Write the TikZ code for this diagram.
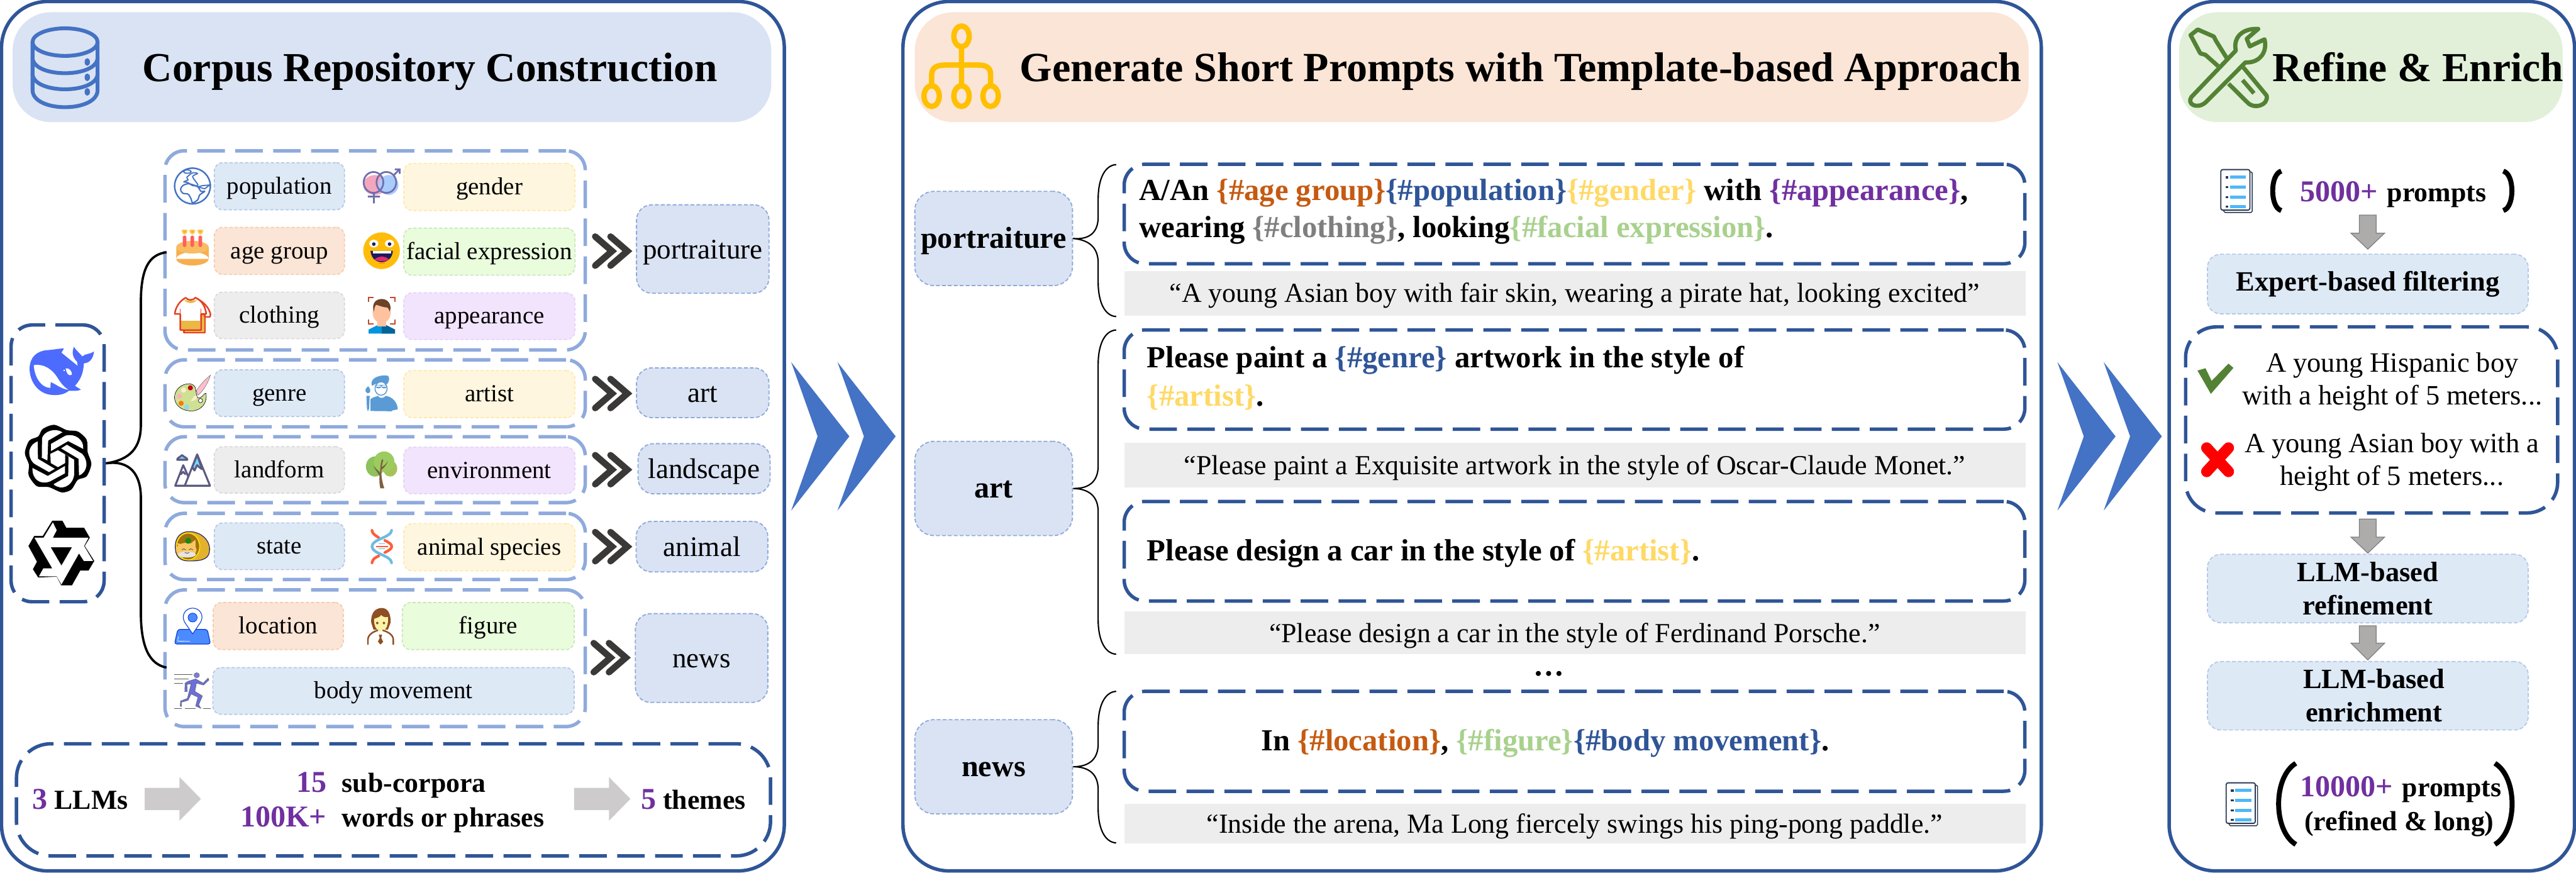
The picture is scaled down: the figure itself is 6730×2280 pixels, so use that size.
\documentclass[tikz,border=0pt]{standalone}
\usepackage{fontspec}
\setmainfont{Liberation Serif}
\definecolor{blueD}{HTML}{2F5597}
\definecolor{blueM}{HTML}{4472C4}
\definecolor{blueL}{HTML}{8FAADC}
\definecolor{bandB}{HTML}{DAE3F3}
\definecolor{bandO}{HTML}{FBE5D6}
\definecolor{bandG}{HTML}{E2F0D9}
\definecolor{purp}{HTML}{7030A0}
\definecolor{orgT}{HTML}{C55A11}
\definecolor{yelT}{HTML}{FFD966}
\definecolor{greT}{HTML}{A9D18E}
\definecolor{gryT}{HTML}{7F7F7F}
\definecolor{dkchev}{HTML}{3B3838}
\definecolor{arrA}{HTML}{CDCBCB}
\definecolor{arrB}{HTML}{AEABAB}
\definecolor{tagBf}{HTML}{DEE9F6}
\definecolor{tagBd}{HTML}{B4C7E7}
\definecolor{tagYf}{HTML}{FFF6DF}
\definecolor{tagYd}{HTML}{FFE9A8}
\definecolor{tagOd}{HTML}{F8CBAD}
\definecolor{tagGf}{HTML}{E9FCDC}
\definecolor{tagGd}{HTML}{CBE6B8}
\definecolor{tagKf}{HTML}{EDEDED}
\definecolor{tagKd}{HTML}{D9D9D9}
\definecolor{tagPf}{HTML}{F2E4FD}
\definecolor{tagPd}{HTML}{E6D2F8}
\definecolor{cOrg}{RGB}{255,192,0}
\definecolor{cTool}{RGB}{84,130,53}
\definecolor{cWhale}{RGB}{77,107,254}
\definecolor{cPink}{RGB}{244,166,189}
\definecolor{cSky}{RGB}{169,204,251}
\definecolor{cViol}{RGB}{111,111,175}
\definecolor{cCake}{RGB}{247,174,78}
\definecolor{cCakeT}{RGB}{249,188,98}
\definecolor{cCand}{RGB}{255,95,95}
\definecolor{cFlame}{RGB}{255,214,92}
\definecolor{cFace}{RGB}{255,188,10}
\definecolor{cNavy}{RGB}{27,27,94}
\definecolor{cTong}{RGB}{222,44,106}
\definecolor{cShirt}{RGB}{234,184,67}
\definecolor{cRed}{RGB}{228,64,31}
\definecolor{cBrack}{RGB}{193,73,42}
\definecolor{cBl}{RGB}{0,149,221}
\definecolor{cBlB}{RGB}{6,100,150}
\definecolor{cSkin}{RGB}{255,194,158}
\definecolor{cHair}{RGB}{107,66,38}
\definecolor{cPal}{RGB}{207,224,147}
\definecolor{cDa}{RGB}{196,0,18}
\definecolor{cDb}{RGB}{252,239,201}
\definecolor{cDc}{RGB}{251,176,187}
\definecolor{cDd}{RGB}{255,120,0}
\definecolor{cDe}{RGB}{140,217,247}
\definecolor{cBr}{RGB}{255,191,204}
\definecolor{cArt}{RGB}{91,155,213}
\definecolor{cMt}{RGB}{90,90,130}
\definecolor{cSnow}{RGB}{120,212,255}
\definecolor{cTa}{RGB}{167,193,91}
\definecolor{cTb}{RGB}{141,194,92}
\definecolor{cTc}{RGB}{156,203,95}
\definecolor{cTr}{RGB}{127,95,62}
\definecolor{cHood}{RGB}{226,178,46}
\definecolor{cBrn}{RGB}{160,112,15}
\definecolor{cYel}{RGB}{255,230,0}
\definecolor{cCat}{RGB}{248,198,100}
\definecolor{cGrn}{RGB}{17,140,17}
\definecolor{cDO}{RGB}{255,92,57}
\definecolor{cDB}{RGB}{110,187,224}
\definecolor{cPin}{RGB}{75,139,255}
\definecolor{cPinD}{RGB}{10,63,216}
\definecolor{cMan}{RGB}{143,78,35}
\definecolor{cManF}{RGB}{251,243,166}
\definecolor{cRunA}{RGB}{122,126,224}
\definecolor{cRunB}{RGB}{106,111,219}
\definecolor{cDocL}{HTML}{4FB8F5}
\definecolor{cDocD}{HTML}{2B3A55}
\newcommand\fsz[1]{\fontsize{\fpeval{#1*0.28453}}{\fpeval{#1*1.19*0.28453}}\selectfont}
\newcommand\bx[7]{\pgfmathsetmacro\bw{(#5-#3)*0.01}\pgfmathsetmacro\bh{(#6-#4)*0.01}\node[#2,minimum width=\bw cm,minimum height=\bh cm] (#1) at ({(#3+#5)/2},{(#4+#6)/2}) {#7};}
\newcommand\dchev[2]{\draw[dkchev,line width=.17cm,line cap=round,line join=miter] (#1,#2-38)--(#1+44,#2)--(#1,#2+38) (#1+40,#2-38)--(#1+84,#2)--(#1+40,#2+38);}
\newcommand\bigchev[1]{\fill[blueM] (#1,946)--(#1+152,1140)--(#1,1334)--(#1+69,1140)--cycle; \fill[blueM] (#1+121,946)--(#1+273,1140)--(#1+121,1334)--(#1+190,1140)--cycle;}
\newcommand\rarr[1]{\fill[arrA] (#1,2058)--(#1+91,2058)--(#1+91,2030)--(#1+147,2087)--(#1+91,2144)--(#1+91,2116)--(#1,2116)--cycle;}
\newcommand\darr[3]{\filldraw[fill=arrB,draw=gryT,line width=.02cm] (6164,#1)--(6208,#1)--(6208,#2)--(6230,#2)--(6186,#3)--(6142,#2)--(6164,#2)--cycle;}
\newcommand\docicon[2]{\begin{scope}[shift={(#1,#2)}]
\filldraw[fill=white,draw=cDocD,line width=.025cm,rounded corners=.03cm] (8,6) rectangle (82,112);
\filldraw[fill=white,draw=cDocD,line width=.03cm,rounded corners=.05cm] (0,0) rectangle (76,106);
\foreach \yy in {20,46,72,97}{\fill[cDocD] (12,\yy-3) rectangle (20,\yy+3);\fill[cDocL] (24,\yy-4) rectangle (66,\yy+4);}
\end{scope}}
\newcommand\brc[4]{\coordinate (#1t) at (2916,#2);\coordinate (#1b) at (2916,#3);
\draw[black,line width=.035cm] (#1t) .. controls (2885,#2+2) and (2869,#2+40) .. (2869,#2+90) -- (2869,#4-60) .. controls (2869,#4-22) and (2848,#4) .. (#1.east) .. controls (2848,#4) and (2869,#4+22) .. (2869,#4+60) -- (2869,#3-90) .. controls (2869,#3-40) and (2885,#3-2) .. (#1b);}
\tikzset{
 panel/.style={draw=blueD,line width=.09cm,rounded corners=1.2cm},
 bandbox/.style={rectangle,rounded corners=1cm,inner sep=0pt},
 dashD/.style={rectangle,draw=blueD,line width=.09cm,dash pattern=on .72cm off .27cm,rounded corners=.55cm,inner sep=0pt},
 dashL/.style={rectangle,draw=blueL,line width=.09cm,dash pattern=on .72cm off .27cm,rounded corners=.5cm,inner sep=0pt},
 tagbox/.style={rectangle,rounded corners=.22cm,line width=.028cm,dash pattern=on .085cm off .05cm,inner sep=0pt,text height=.5cm,text depth=.1cm,font=\fsz{64}},
 tagB/.style={tagbox,fill=tagBf,draw=tagBd},
 tagY/.style={tagbox,fill=tagYf,draw=tagYd},
 tagO/.style={tagbox,fill=bandO,draw=tagOd},
 tagG/.style={tagbox,fill=tagGf,draw=tagGd},
 tagK/.style={tagbox,fill=tagKf,draw=tagKd},
 tagP/.style={tagbox,fill=tagPf,draw=tagPd},
 theme/.style={rectangle,rounded corners=.4cm,fill=bandB,draw=blueL,line width=.03cm,dash pattern=on .1cm off .055cm,inner sep=0pt,text height=.55cm,text depth=.05cm,font=\fsz{74}},
 cat/.style={theme,rounded corners=.5cm,font=\fsz{79}\bfseries},
 stepbox/.style={rectangle,rounded corners=.35cm,fill=tagBf,draw=tagBd,line width=.028cm,dash pattern=on .1cm off .055cm,inner sep=0pt,align=center,font=\fsz{73}\bfseries},
 graybar/.style={rectangle,fill=tagKf,inner sep=0pt},
 pr/.style={font=\fsz{80}\bfseries},
 gr/.style={font=\fsz{72}},
 bd/.style={font=\fsz{72}\bfseries},
 nm/.style={font=\fsz{79}\bfseries,text=purp},
 pl/.style={font=\fsz{73}},
 zA/.style={shift={(440,420)},x=.00395cm,y=-.00333cm},
 zB/.style={shift={(440,950)},x=.00395cm,y=-.00351cm},
 zC/.style={shift={(440,1550)},x=.00395cm,y=-.00333cm},
 zD/.style={shift={(40,880)},x=.00333cm,y=-.004337cm},
 zW/.style={shift={(5000,0)},x=.01103cm,y=-.007334cm},
}
\begin{document}
\begin{tikzpicture}[x=.01cm,y=-.01cm]
\useasboundingbox (0,0) rectangle (6730,2280);
\fill[white] (0,0) rectangle (6730,2280);
% panels
\draw[panel] (4,4) rectangle (2049,2275);
\draw[panel] (2359,4) rectangle (5333,2275);
\draw[panel] (5667,4) rectangle (6726,2275);
% title bands
\bx{bandA}{bandbox,fill=bandB}{33}{32}{2015}{319}{}
\bx{bandC}{bandbox,fill=bandO}{2390}{32}{5300}{319}{}
\bx{bandE}{bandbox,fill=bandG}{5693}{32}{6695}{319}{}
\node[anchor=base west,inner sep=0pt,font=\fsz{107.6}\bfseries] (t1) at (372,213) {Corpus Repository Construction};
\node[anchor=base west,inner sep=0pt,font=\fsz{108.4}\bfseries] (t2) at (2664,213) {Generate Short Prompts with Template-based Approach};
\node[anchor=base west,inner sep=0pt,font=\fsz{107.6}\bfseries] (t3) at (5937,213) {Refine \& Enrich};
% database icon
\begin{scope}[blueM,line width=.1cm]
\draw (170,110) ellipse [x radius=85,y radius=36];
\draw (85,110)--(85,235) .. controls (85,295) and (255,295) .. (255,235)--(255,110);
\draw (85,150) .. controls (85,205) and (255,205) .. (255,150);
\draw (85,192) .. controls (85,247) and (255,247) .. (255,192);
\fill (228,162) ellipse [x radius=7,y radius=10] (228,202) ellipse [x radius=7,y radius=10] (228,240) ellipse [x radius=7,y radius=10];
\end{scope}
% org icon
\begin{scope}[draw=cOrg,line width=.14cm]
\draw (2512,95) ellipse [x radius=20,y radius=27];
\draw (2434,251) ellipse [x radius=20,y radius=27] (2512,251) ellipse [x radius=20,y radius=27] (2588,251) ellipse [x radius=20,y radius=27];
\draw (2512,122)--(2512,225) (2434,225)--(2434,195) .. controls (2434,175) and (2450,170) .. (2470,170)--(2555,170) .. controls (2575,170) and (2588,175) .. (2588,195)--(2588,225);
\end{scope}
% tools icon
\begin{scope}[zW,draw=cTool,line width=.11cm,line join=round]
\draw (657,345)--(762,180) .. controls (755,130) and (780,100) .. (815,103)--(788,138)--(795,165)--(830,140) .. controls (838,190) and (815,225) .. (785,222)--(690,365) .. controls (670,390) and (645,370) .. (657,345)--cycle;
\draw (742,210)--(715,145)--(710,130)--(672,105)--(655,125)--(678,190)--(690,195)--(720,235);
\draw (780,240)--(835,340) .. controls (840,375) and (805,390) .. (790,365)--(745,298);
\draw (778,285)--(805,332);
\end{scope}
% LLM box & icons
\bx{llm}{dashD}{29}{849}{272}{1572}{}
\begin{scope}[zD]
\fill[cWhale] (112,190) .. controls (115,120) and (170,85) .. (250,80) .. controls (300,78) and (340,70) .. (382,70)--(362,95) .. controls (400,120) and (450,150) .. (490,175)--(485,150) .. controls (445,120) and (445,90) .. (460,60) .. controls (480,85) and (510,100) .. (525,118) .. controls (550,100) and (590,105) .. (618,88) .. controls (610,130) and (590,155) .. (538,160) .. controls (535,220) and (510,260) .. (468,295)--(515,318) .. controls (490,328) and (450,325) .. (420,325) .. controls (380,350) and (330,352) .. (290,350) .. controls (180,345) and (112,270) .. (112,190)--cycle;
\fill[white] (145,170) .. controls (220,160) and (290,195) .. (330,245) .. controls (360,285) and (395,310) .. (418,318) .. controls (370,318) and (320,285) .. (278,272)--(275,308) .. controls (200,305) and (150,240) .. (145,170)--cycle;
\fill[white] (395,190) .. controls (420,185) and (445,205) .. (445,228) .. controls (420,238) and (405,225) .. (395,190)--cycle;
\fill[white] (378,198) rectangle (390,208);
% openai knot
\fill[black] plot[smooth cycle] coordinates {(75,700)(110,625)(180,600)(215,555)(305,530)(405,562)(490,570)(560,620)(568,695)(597,765)(560,840)(490,862)(440,920)(365,937)(262,905)(170,900)(105,835)(107,770)};
\fill[white] (175,630) .. controls (125,645) and (105,680) .. (110,705) .. controls (115,740) and (135,755) .. (150,765)--(265,815)--(310,795)--(178,735)--cycle;
\fill[white] (210,610) .. controls (225,570) and (310,545) .. (370,575)--(258,625)--(252,745)--(208,728)--cycle;
\fill[white] (280,645)--(395,595) .. controls (470,580) and (540,620) .. (533,675)--(415,628)--(280,688)--cycle;
\fill[white] (360,672)--(405,650)--(525,705) .. controls (575,745) and (570,815) .. (500,835)--(497,735)--cycle;
\fill[white] (395,710)--(462,740)--(462,830) .. controls (450,900) and (360,930) .. (300,888)--(415,838)--(418,722)--cycle;
\fill[white] (135,790)--(255,838)--(390,778)--(390,822)--(275,870) .. controls (200,895) and (130,860) .. (135,790)--cycle;
\fill[white] (275,705)--(335,683)--(392,708)--(392,760)--(335,785)--(278,760)--cycle;
% qwen star
\fill[black] (290,1108)--(370,1108)--(400,1150)--(540,1150)--(585,1210)--(545,1260)--(620,1350)--(575,1408)--(510,1408)--(445,1497)--(360,1497)--(325,1445)--(180,1450)--(138,1400)--(170,1355)--(103,1260)--(148,1200)--(215,1200)--cycle;
\fill[white,even odd rule] (295,1118)--(325,1165)--(295,1210)--(575,1210)--(540,1260)--(610,1350)--(538,1350)--(500,1305)--(362,1492)--(325,1443)--(185,1443)--(220,1395)--(290,1395)--(150,1210)--(222,1210)--cycle (278,1268)--(445,1268)--(362,1378)--cycle;
\end{scope}
% groups
\bx{gP}{dashL}{431}{394}{1529}{914}{}
\bx{gA}{dashL}{431}{940}{1529}{1115}{}
\bx{gL}{dashL}{431}{1141}{1529}{1313}{}
\bx{gN}{dashL}{431}{1341}{1529}{1514}{}
\bx{gW}{dashL}{431}{1541}{1529}{1898}{}
% tags
\bx{population}{tagB}{560}{425}{900}{548}{population}
\bx{gender}{tagY}{1055}{427}{1502}{550}{gender}
\bx{agegroup}{tagO}{560}{594}{900}{717}{age group}
\bx{facial}{tagG}{1055}{596}{1502}{719}{facial expression}
\bx{clothing}{tagK}{560}{763}{900}{885}{clothing}
\bx{appearance}{tagP}{1055}{765}{1502}{887}{appearance}
\bx{genre}{tagB}{560}{966}{900}{1088}{genre}
\bx{artist}{tagY}{1055}{968}{1502}{1091}{artist}
\bx{landform}{tagK}{560}{1167}{900}{1288}{landform}
\bx{environment}{tagP}{1055}{1168}{1502}{1290}{environment}
\bx{state}{tagB}{560}{1366}{900}{1488}{state}
\bx{species}{tagY}{1055}{1368}{1502}{1491}{animal species}
\bx{location}{tagO}{557}{1574}{897}{1697}{location}
\bx{figure}{tagG}{1051}{1574}{1500}{1697}{figure}
\bx{bodymove}{tagB}{556}{1744}{1500}{1866}{body movement}
% themes
\bx{thP}{theme}{1663}{535}{2009}{766}{portraiture}
\bx{thA}{theme}{1663}{961}{2009}{1091}{art}
\bx{thL}{theme}{1667}{1159}{2012}{1290}{landscape}
\bx{thN}{theme}{1662}{1362}{2006}{1494}{animal}
\bx{thW}{theme}{1660}{1603}{2006}{1835}{news}
\dchev{1555}{656}\dchev{1555}{1028}\dchev{1555}{1227}\dchev{1555}{1428}\dchev{1551}{1718}
% brace from llm
\coordinate (b1) at (435,659); \coordinate (b2) at (435,1744);
\draw[black,line width=.06cm] (b1) .. controls (390,665) and (368,700) .. (368,790) -- (368,1110) .. controls (368,1170) and (340,1201) .. (llm.east) .. controls (340,1201) and (368,1240) .. (368,1300) -- (368,1600) .. controls (368,1690) and (390,1735) .. (b2);
% icons column 1 (zoom A)
\begin{scope}[zA]
\draw[blueM,line width=.04cm,line join=round] (159,198) ellipse [x radius=118,y radius=140];
\draw[blueM,line width=.035cm,line join=round] plot[smooth cycle] coordinates {(80,225)(95,195)(130,180)(165,190)(195,205)(215,240)(240,240)(205,270)(195,305)(160,330)(150,300)(130,262)(95,255)};
\draw[blueM,line width=.03cm] plot[smooth cycle] coordinates {(103,165)(130,150)(122,130)(160,95)(192,100)(160,125)(195,190)(160,195)(130,172)};
\draw[blueM,line width=.03cm] (125,85) ellipse [x radius=25,y radius=13];
\draw[blueM,line width=.03cm] (195,205)--(225,195)--(272,190)--(240,220)--cycle;
\fill[cPink] (1365,190) ellipse [x radius=78,y radius=78];
\fill[cSky] (1455,190) ellipse [x radius=65,y radius=78];
\begin{scope}[draw=cViol,line width=.045cm]
\draw (1355,170) ellipse [x radius=65,y radius=82] (1440,170) ellipse [x radius=65,y radius=82];
\draw (1358,252)--(1358,335) (1318,281)--(1398,281) (1490,112)--(1528,65) (1495,67)--(1528,67)--(1528,102);
\end{scope}
\fill[cCake] (52,680) rectangle (266,770) (159,770) ellipse [x radius=107,y radius=52];
\fill[cCakeT] (159,678) ellipse [x radius=107,y radius=50];
\foreach \xx in {107,158,211}{\fill[cCand,rounded corners=.03cm] (\xx-12,588) rectangle (\xx+12,676);
 \fill[cFlame] (\xx,582) .. controls (\xx-30,560) and (\xx-25,530) .. (\xx,542) .. controls (\xx+25,530) and (\xx+30,560) .. (\xx,582)--cycle;
 \fill[cCake] (\xx,556) ellipse [x radius=11,y radius=12];}
\fill[cFace] (1408,706) ellipse [x radius=121,y radius=144];
\fill[white] (1357,650) ellipse [x radius=30,y radius=30] (1461,650) ellipse [x radius=30,y radius=30];
\fill[cNavy] (1357,654) ellipse [x radius=12,y radius=14] (1461,654) ellipse [x radius=12,y radius=14];
\fill[cNavy] (1335,707)--(1483,707) .. controls (1480,770) and (1440,796) .. (1410,796) .. controls (1375,796) and (1340,770) .. (1335,707)--cycle;
\fill[white] (1350,710) rectangle (1470,730);
\fill[cTong] (1362,775) .. controls (1385,745) and (1435,745) .. (1457,775) .. controls (1440,793) and (1380,793) .. (1362,775)--cycle;
\draw[orange,line width=.02cm] (1390,804)--(1430,804);
% shirt
\filldraw[fill=cShirt,draw=cRed,line width=.04cm,line join=round] (102,1325)--(102,1350)--(243,1350)--(243,1205)--(215,1205)--(215,1325)--cycle;
\filldraw[fill=white,draw=cRed,line width=.04cm,line join=round] (178,1075) .. controls (240,1110) and (270,1160) .. (278,1205)--(275,1225)--(240,1225)--(240,1150)--cycle;
\filldraw[fill=white,draw=cRed,line width=.04cm,line join=round] (115,1075) .. controls (125,1098) and (165,1098) .. (178,1075) .. controls (230,1100) and (245,1160) .. (250,1202)--(215,1202)--(215,1328)--(78,1328)--(78,1202)--(42,1202) .. controls (45,1160) and (70,1100) .. (115,1075)--cycle;
\fill[cShirt] (84,1255) rectangle (210,1322);
\fill[cShirt] (102,1092) .. controls (125,1125) and (170,1125) .. (190,1092) .. controls (170,1100) and (125,1100) .. (102,1092)--cycle;
\draw[cRed,line width=.03cm] (78,1160)--(78,1202) (215,1160)--(215,1202);
% face person
\draw[cBrack,line width=.035cm] (1323,1107)--(1323,1072)--(1356,1072) (1464,1072)--(1495,1072)--(1495,1107) (1323,1245)--(1323,1280)--(1356,1280) (1464,1280)--(1495,1280)--(1495,1245);
\fill[cBl] (1323,1356)--(1323,1325)--(1385,1288)--(1435,1288)--(1497,1325)--(1497,1356)--cycle;
\fill[cBlB] (1410,1290)--(1435,1288)--(1497,1325)--(1497,1356)--(1410,1356)--cycle;
\fill[cSkin] (1380,1240) rectangle (1438,1300);
\fill[cSkin] (1409,1190) ellipse [x radius=60,y radius=85];
\fill[cHair] (1358,1185) .. controls (1340,1120) and (1370,1085) .. (1410,1085) .. controls (1450,1085) and (1480,1130) .. (1462,1185) .. controls (1455,1160) and (1450,1145) .. (1430,1150) .. controls (1410,1145) and (1385,1135) .. (1372,1130) .. controls (1362,1145) and (1360,1165) .. (1358,1185)--cycle;
\end{scope}
% icons zoom B
\begin{scope}[zB]
\filldraw[fill=cPal,draw=black,line width=.01cm] (145,150) .. controls (85,145) and (40,195) .. (40,255) .. controls (45,320) and (100,355) .. (160,352) .. controls (220,345) and (260,290) .. (248,220) .. controls (235,215) and (225,260) .. (195,255) .. controls (170,220) and (200,165) .. (145,150)--cycle;
\fill[cDa] (145,180) ellipse [x radius=17,y radius=19];
\fill[cDb] (100,197) ellipse [x radius=17,y radius=19];
\fill[cDc] (73,242) ellipse [x radius=17,y radius=19];
\fill[cDd] (84,295) ellipse [x radius=17,y radius=19];
\fill[cDe] (120,323) ellipse [x radius=17,y radius=19];
\filldraw[fill=white,draw=black,line width=.01cm] (212,275) ellipse [x radius=14,y radius=16];
\filldraw[fill=cBr,draw=black!60,line width=.008cm] (278,85) .. controls (240,120) and (195,175) .. (185,205)--(195,235) .. controls (225,210) and (260,150) .. (278,85)--cycle;
\fill[cDb] (145,278) .. controls (165,265) and (160,240) .. (180,237)--(190,245) .. controls (190,265) and (170,280) .. (145,278)--cycle;
% artist
\fill[cArt] (1345,165) .. controls (1325,105) and (1400,80) .. (1450,90) .. controls (1470,115) and (1450,150) .. (1440,155)--(1370,150)--cycle;
\filldraw[fill=white,draw=cArt,line width=.025cm] (1405,185) ellipse [x radius=40,y radius=50];
\fill[cArt] (1370,158) rectangle (1442,172) (1388,172) ellipse [x radius=18,y radius=12] (1425,172) ellipse [x radius=18,y radius=12];
\fill[cArt] (1335,352)--(1335,265) .. controls (1345,250) and (1375,245) .. (1385,240) .. controls (1395,260) and (1420,260) .. (1435,240) .. controls (1480,245) and (1515,290) .. (1515,340)--(1480,348)--(1475,354)--cycle;
\fill[cArt] (1308,240)--(1330,240)--(1326,335)--(1318,354)--(1312,335)--cycle;
\fill[cArt] (1320,168) .. controls (1340,190) and (1335,215) .. (1325,218)--(1312,218) .. controls (1295,205) and (1300,185) .. (1320,168)--cycle;
% mountains
\begin{scope}[draw=cMt,line width=.05cm,line join=round]
\filldraw[fill=white] (45,908)--(98,755)--(135,850)--(110,908)--cycle;
\filldraw[fill=white] (108,908)--(190,675)--(275,908)--cycle;
\filldraw[fill=cSnow] (190,678)--(222,785)--(205,772)--(190,755)--(172,795)--(158,770)--cycle;
\filldraw[fill=cSnow] (58,715) .. controls (58,700) and (75,698) .. (90,680) .. controls (105,698) and (125,700) .. (125,715)--cycle;
\draw (80,825)--(98,805)--(115,825);
\end{scope}
% tree
\fill[cTa] (1465,780) ellipse [x radius=47,y radius=60];
\fill[cTb] (1365,765) ellipse [x radius=60,y radius=75];
\fill[cTc] (1425,730) ellipse [x radius=68,y radius=77];
\fill[cTr] (1400,927)--(1426,927) .. controls (1410,870) and (1405,830) .. (1408,790) .. controls (1430,770) and (1445,745) .. (1450,725) .. controls (1440,745) and (1425,760) .. (1408,770)--(1420,715)--(1410,712) .. controls (1400,750) and (1400,780) .. (1398,810) .. controls (1385,795) and (1370,780) .. (1355,760) .. controls (1365,790) and (1385,810) .. (1395,835) .. controls (1392,870) and (1395,900) .. (1400,927)--cycle;
% hood cat
\filldraw[fill=cHood,draw=cNavy,line width=.018cm] (130,1250) .. controls (210,1245) and (275,1310) .. (272,1385) .. controls (270,1445) and (240,1470) .. (130,1468) .. controls (70,1465) and (45,1430) .. (45,1360) .. controls (45,1295) and (80,1252) .. (130,1250)--cycle;
\filldraw[fill=cBrn,draw=cYel,line width=.025cm] (130,1360) ellipse [x radius=77,y radius=100];
\fill[cCat] (118,1385) ellipse [x radius=68,y radius=52];
\fill[cCat] (58,1335)--(90,1345)--(70,1375)--cycle (178,1310)--(180,1360)--(145,1340)--cycle;
\fill[black!10] (122,1420) ellipse [x radius=60,y radius=22];
\fill[cGrn] (130,1318) ellipse [x radius=20,y radius=22];
\draw[black!80,line width=.012cm] (88,1385) .. controls (95,1375) and (108,1375) .. (115,1385) (135,1385) .. controls (142,1375) and (155,1375) .. (162,1385) (108,1405) .. controls (115,1412) and (130,1412) .. (138,1405);
% dna
\draw[cDO,line width=.07cm,line cap=round] (1345,1240) .. controls (1350,1275) and (1375,1280) .. (1390,1295) (1430,1315) .. controls (1465,1335) and (1475,1345) .. (1475,1360) .. controls (1475,1375) and (1465,1385) .. (1430,1405) (1390,1430) .. controls (1365,1445) and (1350,1450) .. (1345,1482);
\draw[cDB,line width=.07cm,line cap=round] (1475,1240) .. controls (1470,1295) and (1345,1305) .. (1345,1360) .. controls (1345,1415) and (1470,1425) .. (1475,1482);
\draw[cDB,line width=.025cm] (1390,1340)--(1430,1340) (1390,1378)--(1430,1378);
\draw[cDO,line width=.025cm] (1370,1360)--(1450,1360);
\end{scope}
% icons zoom C
\begin{scope}[zC]
\filldraw[fill=cPin,draw=cPinD,line width=.02cm,rounded corners=.06cm] (40,398)--(62,283)--(257,283)--(278,398)--cycle;
\draw[white,line width=.012cm] (65,338)--(62,375)--(145,378);
\filldraw[fill=white,draw=cPinD,line width=.018cm] (160,318)--(108,228) .. controls (80,170) and (115,116) .. (160,116) .. controls (205,116) and (240,170) .. (212,228)--cycle;
\filldraw[fill=cPin,draw=cPinD,line width=.015cm] (160,190) ellipse [x radius=30,y radius=35];
% man
\fill[cMan] (1340,230) .. controls (1335,150) and (1370,115) .. (1410,115) .. controls (1450,115) and (1470,160) .. (1468,230)--(1450,285)--(1355,285)--cycle;
\fill[cManF] (1360,200) .. controls (1385,190) and (1400,185) .. (1405,170) .. controls (1420,190) and (1440,190) .. (1450,185) .. controls (1455,240) and (1440,298) .. (1405,298) .. controls (1375,298) and (1355,250) .. (1360,200)--cycle;
\fill[cMan] (1380,233) ellipse [x radius=8,y radius=10] (1424,233) ellipse [x radius=8,y radius=10];
\draw[cMan,line width=.04cm] (1318,402)--(1318,365) .. controls (1318,320) and (1360,298) .. (1385,290) (1486,402)--(1486,365) .. controls (1486,320) and (1440,298) .. (1415,290);
\fill[cMan] (1390,325)--(1412,325)--(1406,350)--(1419,380)--(1402,402)--(1384,380)--(1396,350)--cycle;
% runner
\draw[black!65,line width=.016cm] (40,637)--(158,637) (40,672)--(133,672) (40,705)--(98,705) (40,905)--(90,905) (110,905)--(180,905) (230,905)--(278,905);
\filldraw[fill=cRunA,draw=black!60,line width=.01cm] (187,643) ellipse [x radius=18,y radius=20];
\filldraw[fill=cRunB,draw=black!60,line width=.01cm,line join=round] (130,690)--(180,672)--(230,705)--(262,665)--(268,680)--(232,720)--(185,705)--(175,770)--(225,805)--(200,875)--(215,903)--(180,885)--(195,815)--(150,790)--(130,840)--(85,855)--(88,887)--(78,887)--(80,845)--(125,825)--(150,710)--(122,715)--(125,770)--(108,772)--(110,705)--cycle;
\end{scope}
% bottom summary
\bx{summary}{dashD,rounded corners=.9cm}{43}{1943}{2013}{2236}{}
\node[anchor=base west,inner sep=0pt,bd] (s1) at (84,2114) {\textcolor{purp}{\fsz{79}3} LLMs};
\rarr{378}
\node[anchor=base east,inner sep=0pt,nm] (s2) at (854,2070) {15};
\node[anchor=base west,inner sep=0pt,bd] (s3) at (893,2070) {sub-corpora};
\node[anchor=base east,inner sep=0pt,nm] (s4) at (854,2160) {100K+};
\node[anchor=base west,inner sep=0pt,bd] (s5) at (893,2160) {words or phrases};
\rarr{1500}
\node[anchor=base west,inner sep=0pt,bd] (s6) at (1674,2114) {\textcolor{purp}{\fsz{79}5} themes};
% big chevrons
\bigchev{2067}
\bigchev{5375}
% panel 2
\bx{catP}{cat}{2390}{500}{2802}{746}{portraiture}
\bx{catA}{cat}{2390}{1153}{2802}{1399}{art}
\bx{catN}{cat}{2390}{1880}{2802}{2126}{news}
\brc{catP}{430}{827}{627}
\brc{catA}{862}{1709}{1277}
\brc{catN}{1806}{2202}{2003}
\bx{p1}{dashD}{2937}{429}{5290}{689}{}
\bx{p2}{dashD}{2937}{862}{5290}{1121}{}
\bx{p3}{dashD}{2937}{1310}{5290}{1570}{}
\bx{p4}{dashD}{2937}{1806}{5290}{2067}{}
\bx{g1}{graybar}{2937}{708}{5292}{825}{}
\bx{g2}{graybar}{2937}{1156}{5292}{1273}{}
\bx{g3}{graybar}{2937}{1597}{5292}{1709}{}
\bx{g4}{graybar}{2937}{2100}{5292}{2203}{}
\node[anchor=base west,inner sep=0pt,pr] (l1) at (2976,524) {A/An \textcolor{orgT}{\{\#age group\}}\textcolor{blueD}{\{\#population\}}\textcolor{yelT}{\{\#gender\}} with \textcolor{purp}{\{\#appearance\}},};
\node[anchor=base west,inner sep=0pt,pr] (l2) at (2976,620) {wearing \textcolor{gryT}{\{\#clothing\}}, looking\textcolor{greT}{\{\#facial expression\}}.};
\node[anchor=base west,inner sep=0pt,pr] (l3) at (2996,961) {Please paint a \textcolor{blueD}{\{\#genre\}} artwork in the style of};
\node[anchor=base west,inner sep=0pt,pr] (l4) at (2996,1060) {\textcolor{yelT}{\{\#artist\}}.};
\node[anchor=base west,inner sep=0pt,pr] (l5) at (2996,1464) {Please design a car in the style of \textcolor{yelT}{\{\#artist\}}.};
\node[anchor=base west,inner sep=0pt,pr] (l6) at (3294,1961) {In \textcolor{orgT}{\{\#location\}}, \textcolor{greT}{\{\#figure\}}\textcolor{blueD}{\{\#body movement\}}.};
\node[anchor=base,inner sep=0pt,gr] (e1) at (4114,790) {“A young Asian boy with fair skin, wearing a pirate hat, looking excited”};
\node[anchor=base,inner sep=0pt,gr] (e2) at (4114,1240) {“Please paint a Exquisite artwork in the style of Oscar-Claude Monet.”};
\node[anchor=base,inner sep=0pt,gr] (e3) at (4114,1679) {“Please design a car in the style of Ferdinand Porsche.”};
\node[anchor=base,inner sep=0pt,gr] (e4) at (4114,2177) {“Inside the arena, Ma Long fiercely swings his ping-pong paddle.”};
\node[anchor=base,inner sep=0pt,pr] (dots) at (4047,1765) {…};
% panel 3
\docicon{5802}{443}
\draw[black,line width=.13cm] (5960,447) .. controls (5930,455) and (5930,542) .. (5960,550);
\draw[black,line width=.13cm] (6540,447) .. controls (6570,455) and (6570,542) .. (6540,550);
\node[anchor=base west,inner sep=0pt,font=\fsz{72}\bfseries] (c1) at (6009,526) {\textcolor{purp}{\fsz{79}5000+}\,\,prompts};
\darr{562}{609}{651}
\bx{expert}{stepbox}{5767}{664}{6605}{820}{Expert-based filtering}
\bx{chk}{dashD,rounded corners=.8cm}{5710}{854}{6682}{1340}{}
\fill[cTool] (5741,968)--(5762,962)--(5778,995)--(5822,950)--(5835,961)--(5776,1029)--cycle;
\draw[red,line width=.29cm,line cap=round] (5765,1170)--(5822,1232) (5822,1170)--(5765,1232);
\node[anchor=base,inner sep=0pt,pl] (h1) at (6250,972) {A young Hispanic boy};
\node[anchor=base,inner sep=0pt,pl] (h2) at (6250,1058) {with a height of 5 meters...};
\node[anchor=base,inner sep=0pt,pl] (h3) at (6249,1183) {A young Asian boy with a};
\node[anchor=base,inner sep=0pt,pl] (h4) at (6249,1268) {height of 5 meters...};
\darr{1356}{1403}{1445}
\bx{refine}{stepbox}{5767}{1448}{6605}{1627}{LLM-based\\refinement}
\darr{1635}{1680}{1724}
\bx{enrich}{stepbox}{5767}{1728}{6605}{1907}{\hspace*{.32cm}LLM-based\\\hspace*{.32cm}enrichment}
\docicon{5816}{2045}
\draw[black,line width=.13cm] (5998,1994) .. controls (5938,2030) and (5938,2170) .. (5998,2206);
\draw[black,line width=.13cm] (6518,1994) .. controls (6578,2030) and (6578,2170) .. (6518,2206);
\node[anchor=base west,inner sep=0pt,font=\fsz{72}\bfseries] (c2) at (6009,2081) {\textcolor{purp}{\fsz{79}10000+}\,\,prompts};
\node[anchor=base west,inner sep=0pt,font=\fsz{72}\bfseries] (c3) at (6020,2169) {(refined \& long)};
\end{tikzpicture}
\end{document}
